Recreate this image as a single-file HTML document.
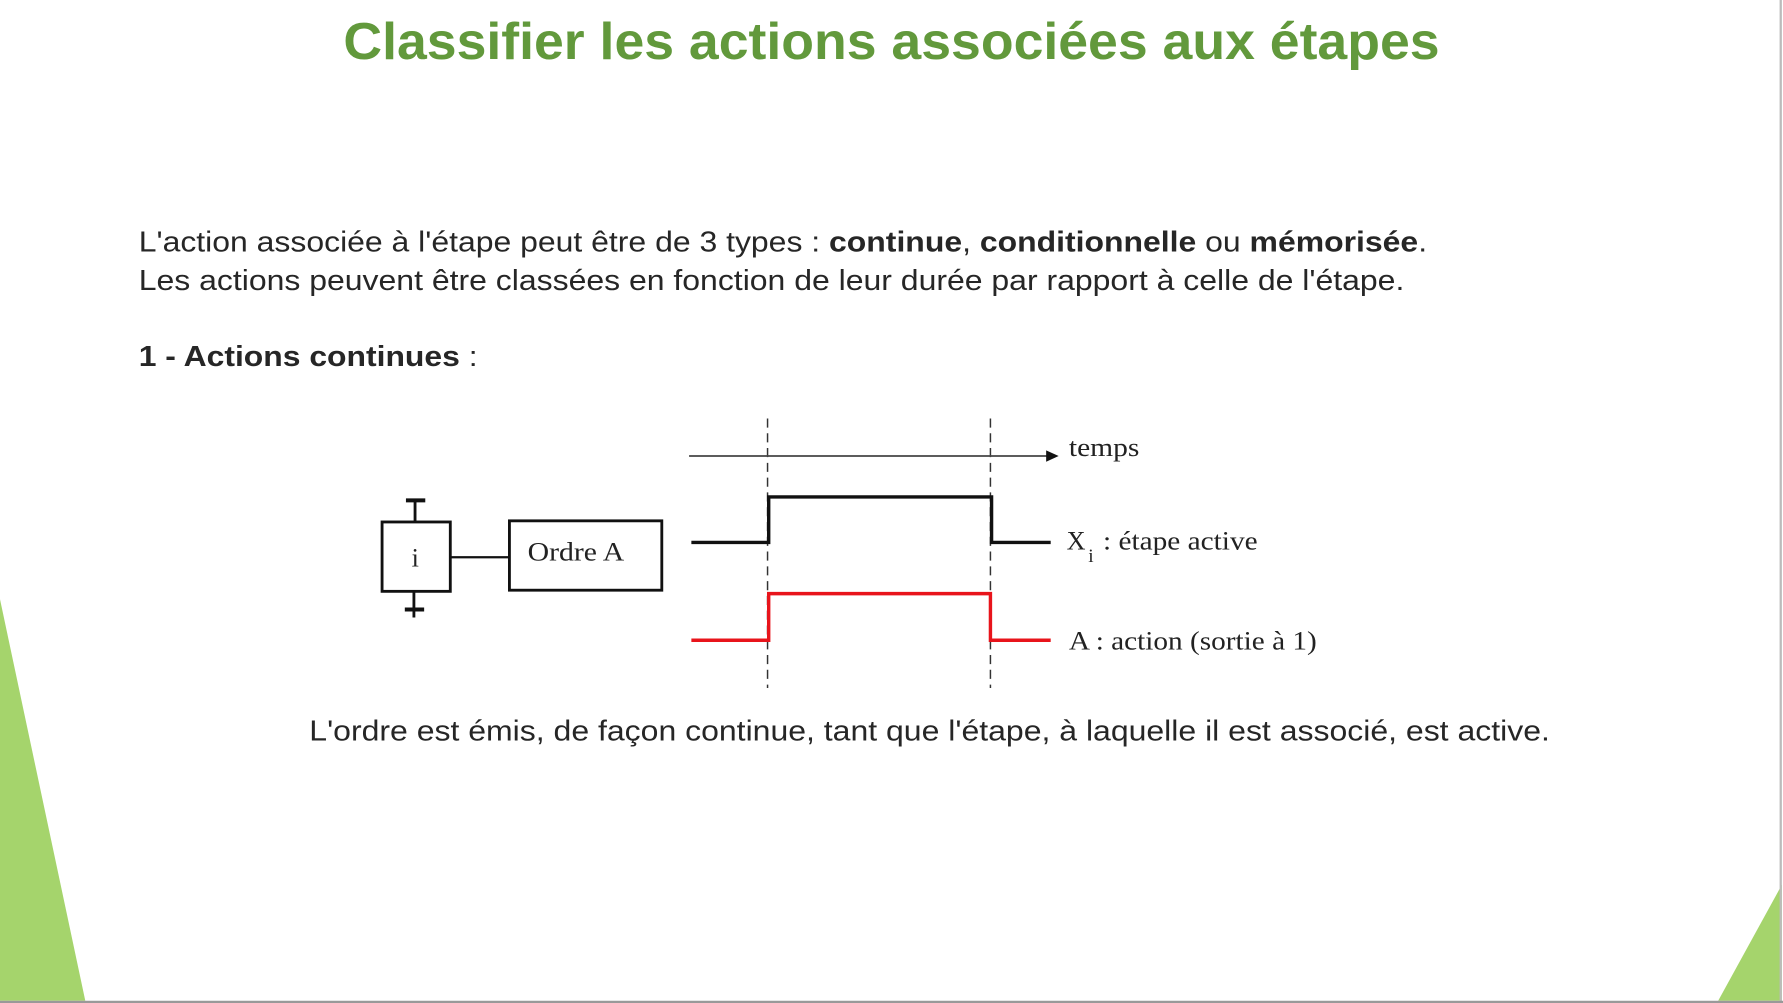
<!DOCTYPE html>
<html><head><meta charset="utf-8"><style>
html,body{margin:0;padding:0;background:#fff;width:1783px;height:1003px;overflow:hidden}
svg{display:block}
</style></head><body>
<svg width="1783" height="1003" viewBox="0 0 1568 882" preserveAspectRatio="none" xmlns="http://www.w3.org/2000/svg">
<rect width="1568" height="882" fill="#fff"/>
<polygon points="0,527 75,880 0,880" fill="#a5d46c"/>
<polygon points="1567,778 1567,880 1511,880" fill="#a5d46c"/>
<line x1="1566" y1="0" x2="1566" y2="882" stroke="#bbb" stroke-width="2"/>
<line x1="0" y1="881" x2="1568" y2="881" stroke="#999" stroke-width="2"/>

<text x="302" y="52" font-family="Liberation Sans, sans-serif" font-weight="bold" font-size="46" fill="#62993c" textLength="964" lengthAdjust="spacingAndGlyphs">Classifier les actions associées aux étapes</text>

<g font-family="Liberation Sans, sans-serif" font-size="25" fill="#262626">
<text x="122" y="221" textLength="1133" lengthAdjust="spacingAndGlyphs">L'action associée à l'étape peut être de 3 types : <tspan font-weight="bold">continue</tspan>, <tspan font-weight="bold">conditionnelle</tspan> ou <tspan font-weight="bold">mémorisée</tspan>.</text>
<text x="122" y="255" textLength="1113" lengthAdjust="spacingAndGlyphs">Les actions peuvent être classées en fonction de leur durée par rapport à celle de l'étape.</text>
<text x="122" y="322" textLength="298" lengthAdjust="spacingAndGlyphs"><tspan font-weight="bold">1 - Actions continues</tspan> :</text>
<text x="272" y="651" textLength="1091" lengthAdjust="spacingAndGlyphs">L'ordre est émis, de façon continue, tant que l'étape, à laquelle il est associé, est active.</text>
</g>

<g stroke="#111" fill="none" stroke-width="2.5">
<line x1="365" y1="440" x2="365" y2="459"/>
<line x1="357" y1="440" x2="374" y2="440" stroke-width="3.5"/>
<rect x="336" y="459" width="60" height="61"/>
<line x1="364" y1="520" x2="364" y2="543"/>
<line x1="356" y1="536" x2="373" y2="536" stroke-width="3.5"/>
<line x1="396" y1="490" x2="448" y2="490" stroke-width="2"/>
<rect x="448" y="458" width="134" height="61"/>
</g>
<g stroke="#333" stroke-width="1.3" stroke-dasharray="8,5">
<line x1="675" y1="368" x2="675" y2="605"/>
<line x1="871" y1="368" x2="871" y2="605"/>
</g>
<line x1="606" y1="401" x2="922" y2="401" stroke="#444" stroke-width="1.5"/>
<polygon points="920,396 931,401 920,406" fill="#111"/>
<polyline points="608,477 676,477 676,437 872,437 872,477 924,477" fill="none" stroke="#111" stroke-width="3"/>
<polyline points="608,563 676,563 676,522 871,522 871,563 924,563" fill="none" stroke="#e8141b" stroke-width="3"/>

<g font-family="Liberation Serif, serif" font-size="23" fill="#222">
<text x="362" y="498">i</text>
<text x="464" y="493" textLength="85" lengthAdjust="spacingAndGlyphs">Ordre A</text>
<text x="940" y="401" textLength="62" lengthAdjust="spacingAndGlyphs">temps</text>
<text x="938" y="483">X</text>
<text x="957" y="494" font-size="17">i</text>
<text x="970" y="483" textLength="136" lengthAdjust="spacingAndGlyphs">: étape active</text>
<text x="940" y="571" textLength="218" lengthAdjust="spacingAndGlyphs">A : action (sortie à 1)</text>
</g>
</svg>
</body></html>
